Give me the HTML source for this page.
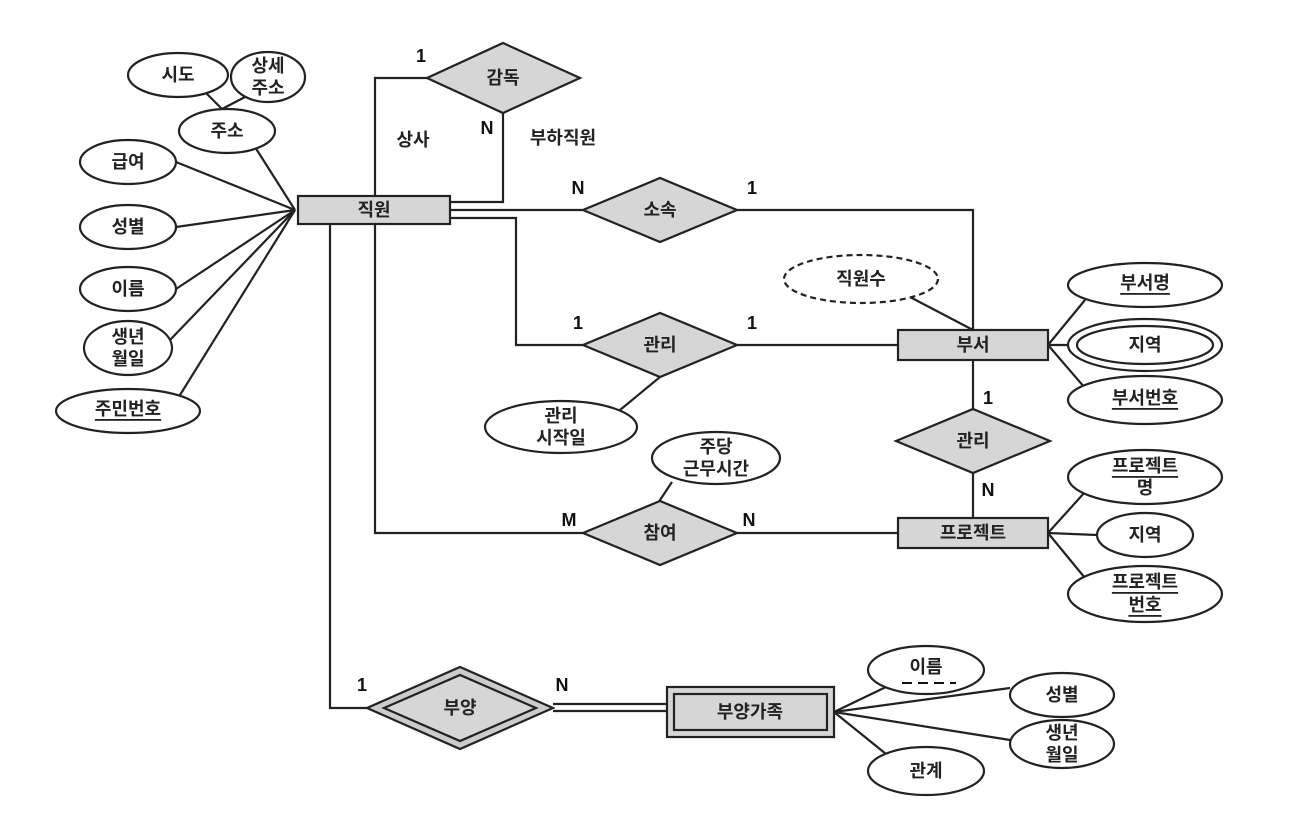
<!DOCTYPE html>
<html><head><meta charset="utf-8"><style>
body{margin:0;background:#fff}
svg{display:block}
text{font-family:"Liberation Sans","Noto Sans CJK KR",sans-serif;font-size:18px;font-weight:600;fill:#222;text-anchor:middle;dominant-baseline:central}
.b{font-weight:bold;font-size:18px;fill:#111}
</style></head><body>
<svg width="1294" height="827" viewBox="0 0 1294 827" xmlns="http://www.w3.org/2000/svg">
<g stroke="#222" stroke-width="2.2" fill="none">
<line x1="295" y1="210" x2="255" y2="147"/>
<line x1="295" y1="210" x2="176" y2="162"/>
<line x1="295" y1="210" x2="176" y2="227"/>
<line x1="295" y1="210" x2="176" y2="289"/>
<line x1="295" y1="210" x2="170" y2="340"/>
<line x1="295" y1="210" x2="180" y2="395"/>
<line x1="222" y1="109" x2="205" y2="92"/>
<line x1="222" y1="109" x2="245" y2="97"/>
<polyline points="375,196 375,78 427,78"/>
<polyline points="503,113 503,202 450,202"/>
<line x1="450" y1="210" x2="583" y2="210"/>
<polyline points="737,210 973,210 973,330"/>
<polyline points="450,218 516,218 516,345 583,345"/>
<line x1="737" y1="345" x2="898" y2="345"/>
<line x1="973" y1="360" x2="973" y2="409"/>
<line x1="973" y1="473" x2="973" y2="518"/>
<polyline points="375,224 375,533 583,533"/>
<line x1="737" y1="533" x2="898" y2="533"/>
<polyline points="330,224 330,708 367,708"/>
<line x1="553" y1="704" x2="667" y2="704"/>
<line x1="553" y1="711" x2="667" y2="711"/>
<line x1="910" y1="297" x2="973" y2="330"/>
<line x1="620" y1="410" x2="660" y2="377"/>
<line x1="672" y1="482" x2="658" y2="503"/>
<line x1="1048" y1="345" x2="1085" y2="300"/>
<line x1="1048" y1="345" x2="1090" y2="345"/>
<line x1="1048" y1="345" x2="1085" y2="388"/>
<line x1="1048" y1="533" x2="1085" y2="492"/>
<line x1="1048" y1="533" x2="1097" y2="535"/>
<line x1="1048" y1="533" x2="1085" y2="578"/>
<line x1="834" y1="712" x2="886" y2="687"/>
<line x1="834" y1="712" x2="1010" y2="688"/>
<line x1="834" y1="712" x2="1010" y2="740"/>
<line x1="834" y1="712" x2="886" y2="754"/>
</g>
<g stroke="#222" stroke-width="2.2" fill="#d6d6d6">
<rect x="298" y="196" width="152" height="28"/>
<rect x="898" y="330" width="150" height="30"/>
<rect x="898" y="518" width="150" height="30"/>
<rect x="667" y="687" width="167" height="50"/>
<rect x="674" y="694" width="153" height="36"/>
<polygon points="427,78 503,43 580,78 503,113"/>
<polygon points="583,210 660,178 737,210 660,242"/>
<polygon points="583,345 660,313 737,345 660,377"/>
<polygon points="896,441 973,409 1050,441 973,473"/>
<polygon points="583,533 660,501 737,533 660,565"/>
<polygon points="367,708 460,667 553,708 460,749" fill="#ccc"/>
<polygon points="384,708 460,675 536,708 460,741"/>
</g>
<g stroke="#222" stroke-width="2.2" fill="#fff">
<ellipse cx="178" cy="75" rx="50" ry="22"/>
<ellipse cx="268" cy="77" rx="37" ry="25"/>
<ellipse cx="227" cy="131" rx="48" ry="22"/>
<ellipse cx="128" cy="162" rx="48" ry="22"/>
<ellipse cx="128" cy="227" rx="48" ry="22"/>
<ellipse cx="128" cy="289" rx="48" ry="22"/>
<ellipse cx="128" cy="348" rx="44" ry="27"/>
<ellipse cx="128" cy="411" rx="72" ry="22"/>
<ellipse cx="861" cy="279" rx="77" ry="24" stroke-dasharray="6,4"/>
<ellipse cx="1145" cy="285" rx="77" ry="22"/>
<ellipse cx="1145" cy="345" rx="77" ry="26"/>
<ellipse cx="1145" cy="345" rx="68" ry="19"/>
<ellipse cx="1145" cy="400" rx="77" ry="24"/>
<ellipse cx="561" cy="427" rx="76" ry="26"/>
<ellipse cx="716" cy="458" rx="64" ry="26"/>
<ellipse cx="1145" cy="477" rx="77" ry="27"/>
<ellipse cx="1145" cy="535" rx="48" ry="22"/>
<ellipse cx="1145" cy="594" rx="77" ry="28"/>
<ellipse cx="926" cy="670" rx="58" ry="24"/>
<ellipse cx="1062" cy="695" rx="52" ry="22"/>
<ellipse cx="1062" cy="744" rx="52" ry="24"/>
<ellipse cx="926" cy="771" rx="58" ry="24"/>
</g>
<g>
<text x="178" y="75">시도</text>
<text x="268" y="66">상세</text><text x="268" y="88">주소</text>
<text x="227" y="131">주소</text>
<text x="128" y="162">급여</text>
<text x="128" y="227">성별</text>
<text x="128" y="289">이름</text>
<text x="128" y="337">생년</text><text x="128" y="359">월일</text>
<text x="128" y="409" text-decoration="underline">주민번호</text>
<text x="374" y="210">직원</text>
<text x="973" y="345">부서</text>
<text x="973" y="533">프로젝트</text>
<text x="750" y="712">부양가족</text>
<text x="503" y="78">감독</text>
<text x="660" y="210">소속</text>
<text x="660" y="345">관리</text>
<text x="973" y="441">관리</text>
<text x="660" y="533">참여</text>
<text x="460" y="708">부양</text>
<text x="861" y="279">직원수</text>
<text x="1145" y="283" text-decoration="underline">부서명</text>
<text x="1145" y="345">지역</text>
<text x="1145" y="398" text-decoration="underline">부서번호</text>
<text x="561" y="416">관리</text><text x="561" y="438">시작일</text>
<text x="716" y="447">주당</text><text x="716" y="469">근무시간</text>
<text x="1145" y="466" text-decoration="underline">프로젝트</text><text x="1145" y="488">명</text>
<text x="1145" y="535">지역</text>
<text x="1145" y="582" text-decoration="underline">프로젝트</text><text x="1145" y="605" text-decoration="underline">번호</text>
<text x="926" y="667">이름</text>
<line x1="902" y1="683" x2="956" y2="683" stroke="#111" stroke-width="2" stroke-dasharray="10,6"/>
<text x="1062" y="695">성별</text>
<text x="1062" y="733">생년</text><text x="1062" y="755">월일</text>
<text x="926" y="771">관계</text>
<text x="413" y="140">상사</text>
<text x="563" y="138">부하직원</text>
<text class="b" x="421" y="56">1</text>
<text class="b" x="487" y="128">N</text>
<text class="b" x="578" y="188">N</text>
<text class="b" x="752" y="188">1</text>
<text class="b" x="578" y="323">1</text>
<text class="b" x="752" y="323">1</text>
<text class="b" x="988" y="398">1</text>
<text class="b" x="988" y="490">N</text>
<text class="b" x="569" y="520">M</text>
<text class="b" x="749" y="520">N</text>
<text class="b" x="362" y="685">1</text>
<text class="b" x="562" y="685">N</text>
</g>
</svg>
</body></html>
